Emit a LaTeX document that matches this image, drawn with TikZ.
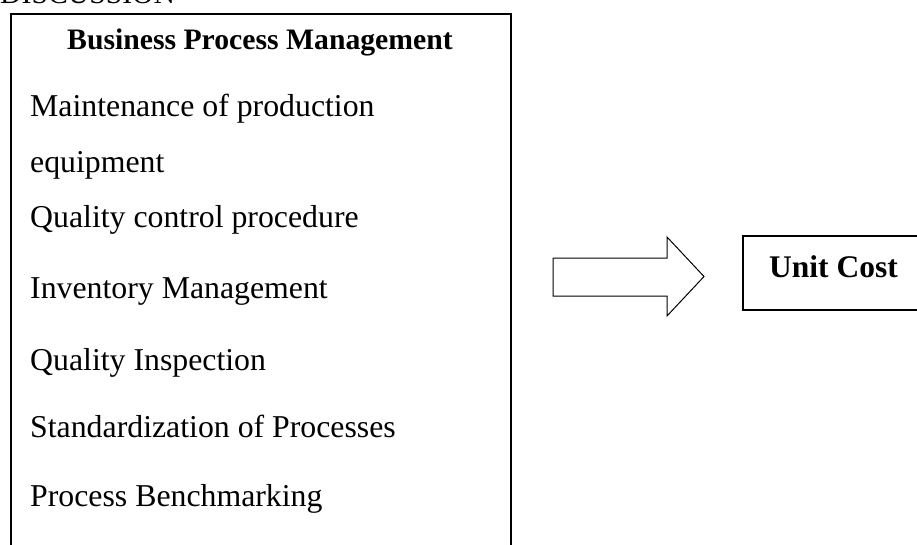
\documentclass[tikz,border=0pt]{standalone}
\usepackage{fontspec}
\setmainfont{Liberation Serif}
\begin{document}
\begin{tikzpicture}[x=1pt,y=-1pt,
  txt/.style={anchor=base west, inner sep=0pt, font=\fontsize{31.8}{38}\selectfont},
  btxt/.style={inner sep=0pt, font=\fontsize{29.7}{36}\selectfont\bfseries},
  frame/.style={draw=black, line width=2pt, inner sep=0pt, anchor=north west},
  blockarrow/.style={draw=black, line width=1pt, line join=miter}
 ]
\useasboundingbox (0,0) rectangle (917,545);
\clip (0,0) rectangle (917,545);
\node[txt, font=\fontsize{29.7}{36}\selectfont] (head) at (0,4) {DISCUSSION};
\node[frame, minimum width=500pt, minimum height=560pt] (bpm) at (10,13) {};
\node[btxt, anchor=base] (title) at (260,50) {Business Process Management};
\node[txt] (i1) at (30,117) {Maintenance of production};
\node[txt] (i2) at (30,173) {equipment};
\node[txt] (i3) at (30,228) {Quality control procedure};
\node[txt] (i4) at (30,298) {Inventory Management};
\node[txt] (i5) at (30,370) {Quality Inspection};
\node[txt] (i6) at (30,437) {Standardization of Processes};
\node[txt] (i7) at (30,506) {Process Benchmarking};
\node[frame, line width=1.5pt, minimum width=220pt, minimum height=74pt] (uc) at (742,235) {};
\node[btxt, anchor=base west, font=\fontsize{31.5}{38}\selectfont\bfseries] (uct) at (769,277) {Unit Cost};
\draw[blockarrow] (553,258) -- (667,258) -- (667,237) -- (704,276.5) -- (667,316) -- (667,296) -- (553,296) -- cycle;
\end{tikzpicture}
\end{document}
